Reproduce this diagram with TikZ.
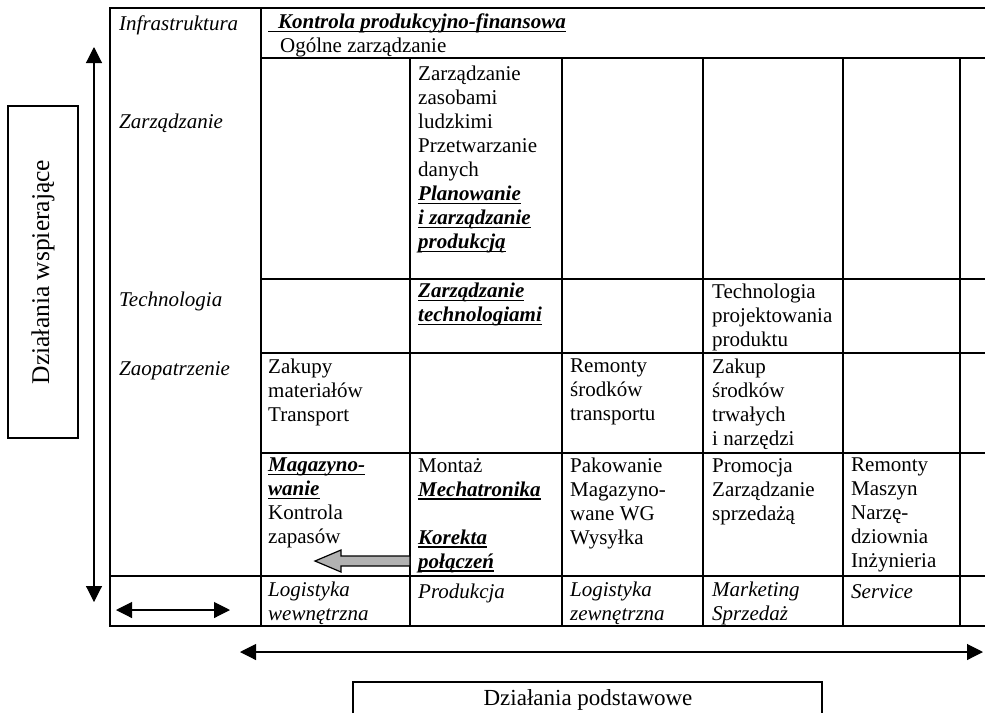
\documentclass[tikz,border=0pt]{standalone}
\usepackage{fontspec}
\setmainfont{Liberation Serif}
\usetikzlibrary{arrows.meta}

\newcommand{\tabfont}{\fontsize{21}{24}\selectfont}
\newsavebox{\ulbox}
% underline at a fixed depth
\newcommand{\ulk}[1]{\sbox{\ulbox}{#1}\rlap{\rule[-3.5pt]{\wd\ulbox}{1.2pt}}\usebox{\ulbox}}
\newcommand{\bi}[1]{\ulk{\textbf{\textit{#1}}}}

\tikzset{
  tabline/.style={line width=1.8pt,line cap=rect},
  cell/.style={anchor=north west,inner sep=0pt,align=left,font=\tabfont,execute at begin node=\strut},
  lbl/.style={cell,font=\tabfont\itshape},
  dbl/.style={{Triangle[length=16pt,width=16pt]}-{Triangle[length=16pt,width=16pt]},line width=1.1pt},
  labbox/.style={draw,line width=1.3pt}
}

\begin{document}
\begin{tikzpicture}[x=1pt,y=-1pt]
  \useasboundingbox (0,0) rectangle (985,713);
  % table
  \foreach \y in {8,576,626} \draw[tabline] (110,\y) -- (985,\y);
  \foreach \y in {58,279,353,453} \draw[tabline] (261,\y) -- (985,\y);
  \draw[tabline] (110,8) -- (110,626);
  \draw[tabline] (261,8) -- (261,626);
  \foreach \x in {410,562,703,843,960} \draw[tabline] (\x,58) -- (\x,626);

  % row labels
  \node[lbl] (infra) at (119,13.5) {Infrastruktura};
  \node[lbl] (zarzl) at (119,111) {Zarządzanie};
  \node[lbl] (techl) at (119,289) {Technologia};
  \node[lbl] (zaopl) at (119,358) {Zaopatrzenie};

  % cells
  \node[cell] (kontr) at (268,13.5) {\ulk{\hspace*{10pt}\textbf{\textit{Kontrola produkcyjno-finansowa}}}\\\hspace*{12pt}Ogólne zarządzanie};
  \node[cell] (kadry) at (418,66) {Zarządzanie\\zasobami\\ludzkimi\\Przetwarzanie\\danych\\\bi{Planowanie}\\\bi{i zarządzanie}\\\bi{produkcją}};
  \node[cell] (techz) at (418,283) {\bi{Zarządzanie}\\\bi{technologiami}};
  \node[cell] (techp) at (712,284) {Technologia\\projektowania\\produktu};
  \node[cell] (zakupy) at (268,359) {Zakupy\\materiałów\\Transport};
  \node[cell] (remtr) at (570,359) {Remonty\\środków\\transportu};
  \node[cell] (zakst) at (712,359) {Zakup\\środków\\trwałych\\i narzędzi};
  \node[cell] (magaz) at (268,458) {\bi{Magazyno-}\\\bi{wanie}\\Kontrola\\zapasów};
  \node[cell] (montaz) at (418,458) {Montaż\\\bi{Mechatronika}\\\strut\\\bi{Korekta}\\\bi{połączeń}};
  \node[cell] (pakow) at (570,458) {Pakowanie\\Magazyno-\\wane WG\\Wysyłka};
  \node[cell] (promo) at (712,458) {Promocja\\Zarządzanie\\sprzedażą};
  \node[cell] (serw) at (851,458) {Remonty\\Maszyn\\Narzę-\\dziownia\\Inżynieria};

  % primary activities
  \node[lbl] (logw) at (268,581.5) {Logistyka\\wewnętrzna};
  \node[lbl] (prod) at (418,581.5) {Produkcja};
  \node[lbl] (logz) at (570,581.5) {Logistyka\\zewnętrzna};
  \node[lbl] (mark) at (712,581.5) {Marketing\\Sprzedaż};
  \node[lbl] (serv) at (851,581.5) {Service};

  % block arrow
  \filldraw[fill=black!30,line width=1.2pt] (410,556) -- (341,556) -- (341,550) -- (315,561)
    -- (341,572) -- (341,566) -- (410,566) -- cycle;

  % side arrows
  \coordinate (vtop) at (94,47);
  \coordinate (vbot) at (94,602);
  \draw[dbl] (vtop) -- (vbot);
  \coordinate (hl) at (116,610);
  \coordinate (hr) at (230,610);
  \draw[dbl] (hl) -- (hr);
  \coordinate (bl) at (240,652);
  \coordinate (br) at (983,652);
  \draw[dbl] (bl) -- (br);

  % captions
  \node[labbox,rotate=90,minimum width=332pt,minimum height=70pt,
    font=\fontsize{25.5}{28}\selectfont] (wspier) at (43,272) {Działania wspierające};
  \node[font=\fontsize{23}{26}\selectfont] (podst) at (588,700) {Działania podstawowe};
  \draw[labbox] (353,713) |- (822,682) -- (822,713);
\end{tikzpicture}
\end{document}
